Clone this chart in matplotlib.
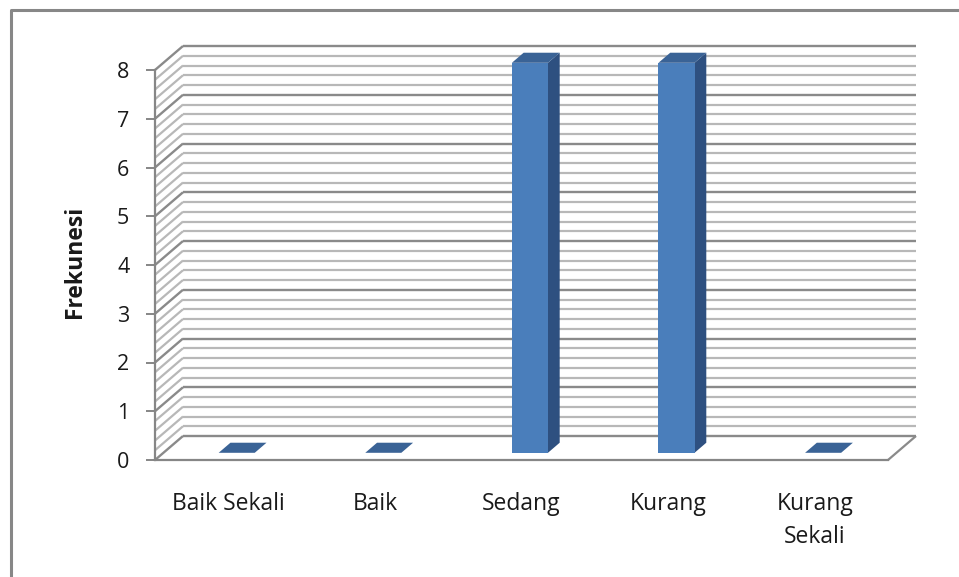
import matplotlib
matplotlib.use('Agg')
import matplotlib.pyplot as plt
from matplotlib.patches import Polygon
from matplotlib.lines import Line2D
from matplotlib.transforms import IdentityTransform
import numpy as np

categories = ['Baik Sekali', 'Baik', 'Sedang', 'Kurang', 'Kurang\nSekali']
values = [0, 0, 8, 8, 0]
y_ticks = [0, 1, 2, 3, 4, 5, 6, 7, 8]
y_label = 'Frekunesi'

FONT = 'Open Sans'
W, H = 959, 577
fig = plt.figure(figsize=(W / 100, H / 100), dpi=100)
fig.patch.set_facecolor('white')

ax = fig.add_axes([155 / W, 117 / H, 733 / W, 390 / H])
ax.set_xlim(-0.5, len(categories) - 0.5)
ax.set_ylim(0, 8)
ax.patch.set_visible(False)
for s in ['top', 'right']:
    ax.spines[s].set_visible(False)
for s in ['left', 'bottom']:
    ax.spines[s].set_color('#868686')
    ax.spines[s].set_linewidth(1.6)
    ax.spines[s].set_zorder(5)

ax.set_yticks(y_ticks)
ax.set_yticklabels([str(t) for t in y_ticks], fontfamily=FONT, fontsize=15.5, color='#1a1a1a')
ax.tick_params(axis='y', direction='out', length=6.5, width=1.4, color='#868686', pad=12)
ax.set_xticks(range(len(categories)))
ax.set_xticklabels(categories, fontfamily=FONT, fontsize=16.5, color='#1a1a1a')
ax.tick_params(axis='x', length=0, pad=23)
for lab in ax.get_xticklabels():
    lab.set_linespacing(1.5)

DEPTH = np.array([28.0, 24.0])


def P(x, y, d):
    return ax.transData.transform((x, y)) + d * DEPTH


def line(p0, p1, color, lw, z=1):
    ln = Line2D([p0[0], p1[0]], [p0[1], p1[1]], color=color, lw=lw,
                transform=IdentityTransform(), clip_on=False, zorder=z,
                solid_capstyle='butt')
    ax.add_line(ln)


x0, x1 = -0.5, len(categories) - 0.5
# back wall + side wall gridlines
for k in range(0, 41):
    y = k * 0.2
    major = (k % 5 == 0)
    col = '#8a8a8a' if major else '#b8b8b8'
    lw = 1.7 if major else 1.6
    line(P(x0, y, 1), P(x1, y, 1), col, lw)
    line(P(x0, y, 0), P(x0, y, 1), col, lw)

# floor right edge
line(P(x1, 0, 0), P(x1, 0, 1), '#8a8a8a', 1.6)

# bars (3D look)
hw = 0.123
d0, d1 = 0.3, 0.72
c_front, c_side, c_top = '#4a7ebb', '#2e5080', '#3a6396'
for i, v in enumerate(values):
    front = [P(i - hw, 0, d0), P(i + hw, 0, d0), P(i + hw, v, d0), P(i - hw, v, d0)]
    side = [P(i + hw, 0, d0), P(i + hw, 0, d1), P(i + hw, v, d1), P(i + hw, v, d0)]
    top = [P(i - hw, v, d0), P(i + hw, v, d0), P(i + hw, v, d1), P(i - hw, v, d1)]
    for pts, c in [(side, c_side), (front, c_front), (top, c_top)]:
        ax.add_patch(Polygon(pts, closed=True, facecolor=c, edgecolor='none',
                             transform=IdentityTransform(), clip_on=False, zorder=3))

# y label
fig.text(75 / W, 1 - 262 / H, y_label, rotation=90, ha='center', va='center',
         fontfamily=FONT, fontsize=16.5, fontweight='bold', color='#1a1a1a')

# outer frame (left & top visible)
fig.add_artist(Line2D([11 / W, 11 / W, 1.0], [0.0, 1 - 10 / H, 1 - 10 / H],
                      color='#878787', lw=2.2, transform=fig.transFigure))

fig.savefig('out.png', dpi=100, facecolor='white')
